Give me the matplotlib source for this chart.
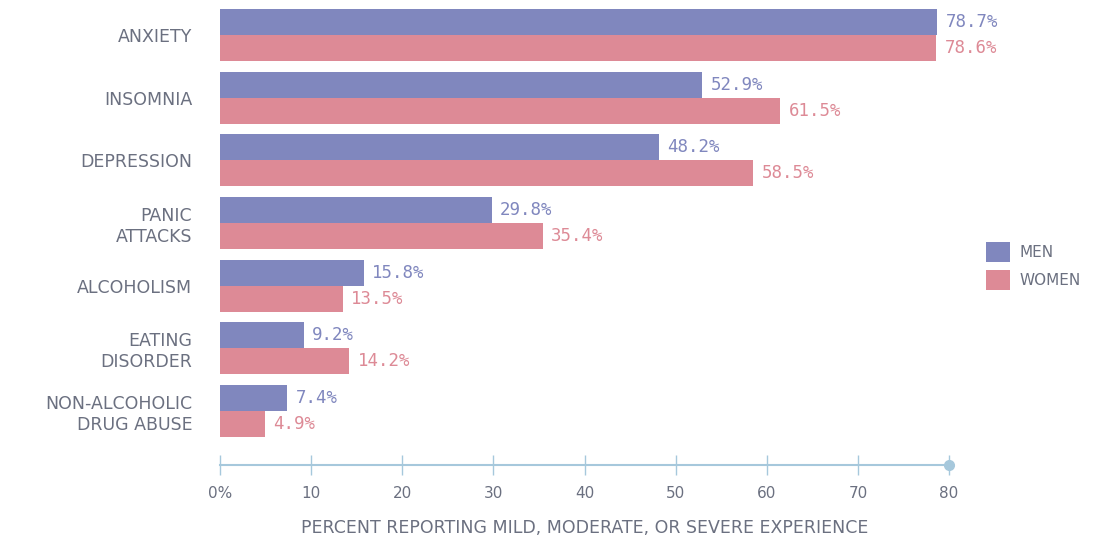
import matplotlib.pyplot as plt
import numpy as np
from matplotlib.ticker import FuncFormatter

categories = ["ANXIETY", "INSOMNIA", "DEPRESSION", "PANIC\nATTACKS", "ALCOHOLISM",
              "EATING\nDISORDER", "NON-ALCOHOLIC\nDRUG ABUSE"]
men = [78.7, 52.9, 48.2, 29.8, 15.8, 9.2, 7.4]
women = [78.6, 61.5, 58.5, 35.4, 13.5, 14.2, 4.9]
xticks = [0, 10, 20, 30, 40, 50, 60, 70, 80]

MEN_C = "#8087be"
WOMEN_C = "#dd8a96"
TEXT_C = "#6b7080"
AXIS_C = "#a6c8dc"

plt.rcParams["font.family"] = ["DejaVu Sans"]

fig = plt.figure(figsize=(10.93, 5.39), dpi=100)
ax = fig.add_axes([220 / 1093, 74 / 539, 729 / 1093, 465 / 539])

y = np.arange(len(categories))
h = 0.415
ax.barh(y - h / 2, men, height=h, color=MEN_C, label="MEN")
ax.barh(y + h / 2, women, height=h, color=WOMEN_C, label="WOMEN")

for yi, v in zip(y, men):
    ax.annotate(f"{v}%", (v, yi - h / 2), xytext=(6, 0), textcoords="offset points",
                va="center", ha="left", color=MEN_C, fontsize=12.5, family="DejaVu Sans Mono")
for yi, v in zip(y, women):
    ax.annotate(f"{v}%", (v, yi + h / 2), xytext=(6, 0), textcoords="offset points",
                va="center", ha="left", color=WOMEN_C, fontsize=12.5, family="DejaVu Sans Mono")

ax.set_xlim(0, 80)
ax.set_ylim(6.86, -0.56)
ax.set_yticks(y)
ax.set_yticklabels(categories, fontsize=12.5, color=TEXT_C, ha="right", linespacing=1.2)
ax.tick_params(axis="y", length=0, pad=20)

ax.set_xticks(xticks)
ax.xaxis.set_major_formatter(FuncFormatter(lambda v, p: "0%" if v == 0 else f"{v:.0f}"))
ax.tick_params(axis="x", direction="inout", length=14, width=1, color=AXIS_C,
               labelsize=11, labelcolor=TEXT_C, pad=8)

for s in ["top", "right", "left"]:
    ax.spines[s].set_visible(False)
ax.spines["bottom"].set_color(AXIS_C)
ax.spines["bottom"].set_linewidth(1.5)
ax.plot([ax.get_xlim()[1]], [ax.get_ylim()[0]], "o", color=AXIS_C, markersize=7, clip_on=False)

ax.set_xlabel("PERCENT REPORTING MILD, MODERATE, OR SEVERE EXPERIENCE",
              fontsize=12.5, color=TEXT_C, labelpad=13)

fig.legend(loc="center left", bbox_to_anchor=(986 / 1093, 1 - 266 / 539), frameon=False,
           fontsize=11, labelcolor=TEXT_C, handlelength=1.6, handleheight=1.6,
           handletextpad=0.6, labelspacing=0.55, borderpad=0, borderaxespad=0)

fig.savefig("out.png", dpi=100)
